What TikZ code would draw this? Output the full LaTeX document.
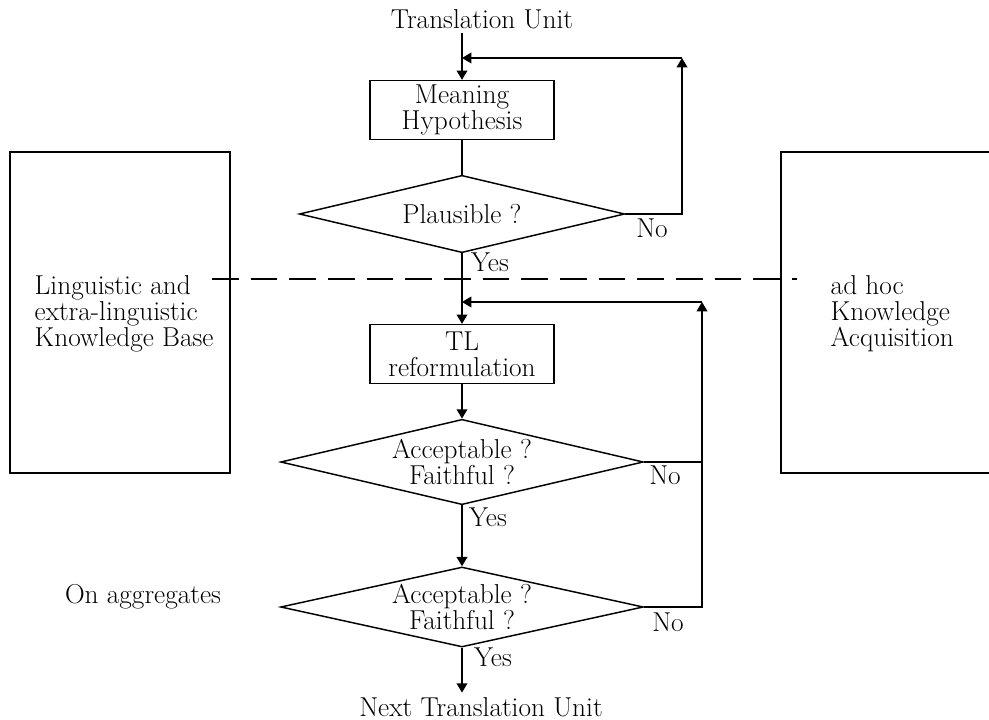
\documentclass[tikz,border=0pt]{standalone}
\usetikzlibrary{shapes.geometric,arrows.meta}

\begin{document}
\begin{tikzpicture}[x=0.75pt,y=0.75pt,yscale=-1,xscale=1,
		every node/.style={font=\fontsize{20.5}{19.5}\selectfont},
		procbox/.style={draw,line width=1.2pt,rectangle,minimum width=138pt,minimum height=44pt,align=center,inner sep=0pt},
		testbox/.style={draw,line width=1.1pt,diamond,shape aspect=4.3,align=center,inner sep=0pt},
		flow/.style={line width=1.2pt,-{Triangle[length=7pt,width=8pt]}},
		link/.style={line width=1.2pt}]
			\useasboundingbox (0,0) rectangle (989,720);
			
			%Shape: Rectangle (knowledge base)
			\draw[line width=1.3pt] (10,152) rectangle (230,473) ;
			%Shape: Rectangle (acquisition, open to the right)
			\draw[line width=1.3pt] (995,152) -- (781,152) -- (781,473) -- (995,473) ;
			%Straight Lines (dashed divider)
			\draw[line width=1pt,dash pattern=on 20pt off 9pt] (212,279) -- (797,279) ;
			
			% Text Node
			\node (tu) at (482,19) {Translation Unit};
			%Shape: Rectangle
			\node[procbox] (mh) at (462,110) {Meaning\\Hypothesis};
			%Shape: Diamond
			\node[testbox,minimum width=244pt,minimum height=58pt] (plaus) at (462,214) {Plausible ?};
			%Shape: Rectangle
			\node[procbox] (tl) at (462,354) {TL\\reformulation};
			%Shape: Diamond
			\node[testbox,minimum width=272pt,minimum height=64pt] (acc) at (462,462) {Acceptable ?\\Faithful ?};
			%Shape: Diamond
			\node[testbox,minimum width=272pt,minimum height=60pt] (agg) at (462,607) {Acceptable ?\\Faithful ?};
			% Text Node
			\node (ntu) at (481,707) {Next Translation Unit};
			
			% Text Node
			\node[anchor=west,align=left] (kb) at (30,314) {Linguistic and\\extra-linguistic\\Knowledge Base};
			% Text Node
			\node[anchor=west,align=left] (ka) at (826,314) {ad hoc\\Knowledge\\Acquisition};
			% Text Node
			\node (onagg) at (143,597) {On aggregates};
			
			% Text Node
			\node (no1) at (652,228) {No};
			\node (yes1) at (490,262) {Yes};
			\node (no2) at (665,475) {No};
			\node (yes2) at (488,517) {Yes};
			\node (no3) at (668,622) {No};
			\node (yes3) at (493,657) {Yes};
			
			%Corners of the loops
			\coordinate (loopa) at (682,58);
			\coordinate (loopb) at (702,302);
			
			%Straight Lines
			\draw[flow] (tu.south -| mh.north) -- (mh.north) ;
			\draw[link] (mh.south) -- (plaus.north) ;
			\draw[flow] (plaus.south) -- (tl.north) ;
			\draw[flow] (tl.south) -- (acc.north) ;
			\draw[flow] (acc.south) -- (agg.north) ;
			\draw[flow] (agg.south) -- (agg.south |- ntu.north) ;
			
			%Feedback loops
			\draw[flow] (plaus.east) -| (loopa) ;
			\draw[flow] (loopa) -- (loopa -| mh.north) ;
			\draw[flow] (agg.east) -| (loopb) ;
			\draw[link] (acc.east) -- (acc.east -| loopb) ;
			\draw[flow] (loopb) -- (loopb -| tl.north) ;
			
\end{tikzpicture}
\end{document}
